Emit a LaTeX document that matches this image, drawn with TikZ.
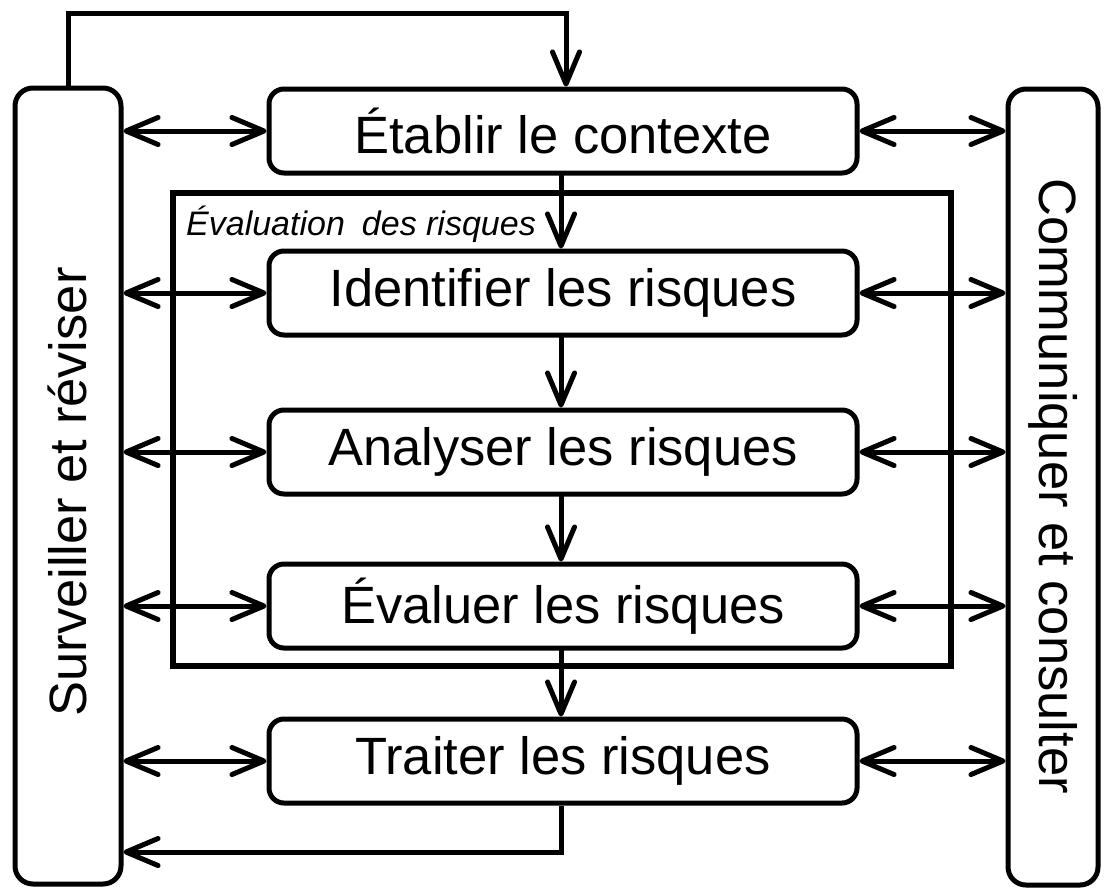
\documentclass[tikz,border=0pt]{standalone}
\usepackage{fontspec}
\setmainfont{Liberation Sans}
\usetikzlibrary{arrows.meta}
\begin{document}
\begin{tikzpicture}[x=1pt,y=-1pt,
  lw/.style={line width=5pt},
  stepbox/.style={draw, lw, rounded corners=15pt, inner sep=0pt,
    minimum width=588pt, minimum height=84pt,
    font=\fontsize{52.5}{60}\selectfont},
  sidebox/.style={draw, lw, rounded corners=18pt, inner sep=0pt,
    minimum width=106pt, minimum height=796pt},
  sidetext/.style={font=\fontsize{52.5}{60}\selectfont, inner sep=0pt},
  tipend/.style={-{Straight Barb[length=32pt,width=27pt,round]}},
  bothend/.style={{Straight Barb[length=32pt,width=27pt,round]}-{Straight Barb[length=32pt,width=27pt,round]}},
  conn/.style={lw, line cap=round},
]
\useasboundingbox (0,0) rectangle (1107,892);

% risk assessment frame
\draw[line width=6pt] (173,193) rectangle (951,666);
\node[anchor=base west, inner sep=0pt, font=\fontsize{34}{40}\selectfont\itshape] (lbl) at (186,235) {Évaluation\enspace des risques};

% side boxes
\node[sidebox] (sv) at (68,486) {};
\node[sidetext, rotate=90] (svt) at (67,492) {Surveiller et réviser};
\node[sidebox, minimum width=90pt] (cc) at (1053,487) {};
\node[sidetext, rotate=-90] (cct) at (1053,486) {Communiquer et consulter};

% step boxes
\node[stepbox] (e) at (563,131) {Établir le contexte};
\node[stepbox] (i) at (563,293) {Identifier les risques};
\node[stepbox] (a) at (563,452) {Analyser les risques};
\node[stepbox] (v) at (563,606) {Évaluer les risques};
\node[stepbox] (t) at (563,761) {Traiter les risques};

% vertical flow
\draw[conn, tipend] (e.south -| 561,0) -- (i.north -| 561,0);
\draw[conn, tipend] (i.south -| 561,0) -- (a.north -| 561,0);
\draw[conn, tipend] (a.south -| 561,0) -- (v.north -| 561,0);
\draw[conn, tipend] (v.south -| 561,0) -- (t.north -| 561,0);

% loops
\coordinate (topl) at (68,13);
\coordinate (topr) at (566,13);
\draw[lw, line join=miter, tipend] (sv.north -| topl) -- (topl) -- (topr) -- (e.north -| topr);
\coordinate (botr) at (561,852);
\draw[lw, line join=miter, tipend] (t.south -| botr) -- (botr) -- (sv.east |- botr);

% side connections
\foreach \n in {e,i,a,v,t}{
  \draw[conn, bothend] (sv.east |- \n.west) -- (\n.west);
  \draw[conn, bothend] (\n.east) -- (cc.west |- \n.east);
}
\end{tikzpicture}
\end{document}
